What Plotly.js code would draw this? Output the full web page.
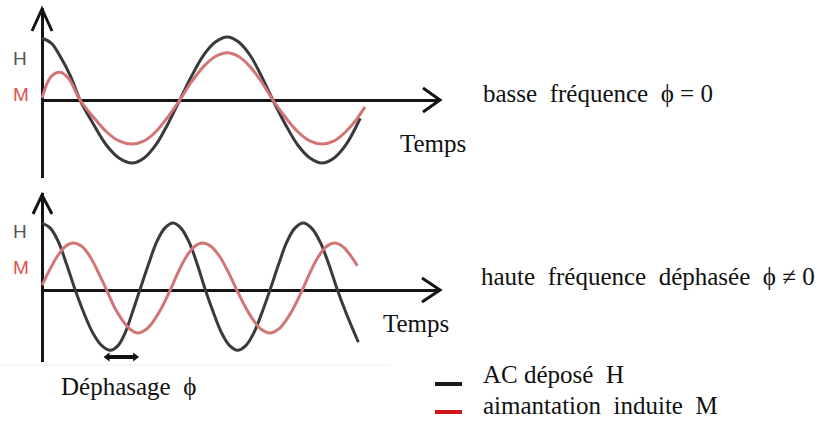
<!DOCTYPE html>
<html>
<head>
<meta charset="utf-8">
<script src="https://cdn.plot.ly/plotly-3.0.1.min.js"></script>
<style>html,body{margin:0;padding:0;background:#fff;}#chart{width:820px;height:421px;}</style>
</head>
<body>
<div id="chart"></div>
<script>
// ---- Data (time in arbitrary units, amplitude normalised) ----
var lowFreqTime_H = [0, 0.10, 0.20, 0.30, 0.40, 0.54, 0.675, 0.81, 0.95, 1.075, 1.20, 1.325, 1.45, 1.575, 1.70, 1.825, 1.95, 2.07, 2.19, 2.31, 2.43, 2.56, 2.69, 2.82, 2.95, 3.075, 3.20, 3.35];
var lowFreqH      = [0.98, 0.90, 0.67, 0.38, 0, -0.38, -0.71, -0.92, -1.0, -0.92, -0.71, -0.38, 0, 0.38, 0.71, 0.92, 1.0, 0.92, 0.71, 0.38, 0, -0.38, -0.71, -0.92, -1.0, -0.92, -0.71, -0.29];
var lowFreqTime_M = [0, 0.05, 0.10, 0.19, 0.28, 0.40, 0.54, 0.675, 0.81, 0.95, 1.075, 1.20, 1.325, 1.45, 1.575, 1.70, 1.825, 1.95, 2.07, 2.19, 2.31, 2.43, 2.56, 2.69, 2.82, 2.95, 3.075, 3.20, 3.30, 3.40];
var lowFreqM      = [0.03, 0.25, 0.38, 0.44, 0.34, 0, -0.27, -0.50, -0.65, -0.70, -0.65, -0.50, -0.27, 0, 0.29, 0.53, 0.69, 0.75, 0.69, 0.53, 0.29, 0, -0.27, -0.50, -0.65, -0.70, -0.65, -0.50, -0.33, -0.11];

var highFreqTime_H = [0, 0.09, 0.175, 0.26, 0.35, 0.44, 0.535, 0.63, 0.72, 0.80, 0.875, 0.95, 1.03, 1.12, 1.205, 1.29, 1.38, 1.465, 1.55, 1.635, 1.72, 1.805, 1.89, 1.975, 2.06, 2.145, 2.23, 2.315, 2.40, 2.49, 2.575, 2.66, 2.75, 2.84, 2.93, 3.02, 3.11, 3.20, 3.27, 3.33];
var highFreqH      = [1.0, 0.92, 0.71, 0.38, 0, -0.34, -0.64, -0.83, -0.90, -0.83, -0.64, -0.34, 0, 0.38, 0.71, 0.92, 1.0, 0.92, 0.71, 0.38, 0, -0.34, -0.64, -0.83, -0.90, -0.83, -0.64, -0.34, 0, 0.38, 0.71, 0.92, 1.0, 0.92, 0.71, 0.38, 0, -0.34, -0.58, -0.78];
var highFreqTime_M = [0, 0.08, 0.16, 0.245, 0.33, 0.42, 0.505, 0.59, 0.68, 0.76, 0.845, 0.93, 1.01, 1.095, 1.18, 1.265, 1.35, 1.435, 1.52, 1.605, 1.69, 1.78, 1.87, 1.96, 2.05, 2.14, 2.225, 2.31, 2.40, 2.485, 2.57, 2.655, 2.74, 2.825, 2.91, 2.995, 3.08, 3.165, 3.245, 3.32];
var highFreqM      = [0.07, 0.30, 0.50, 0.65, 0.70, 0.65, 0.50, 0.27, 0, -0.25, -0.45, -0.59, -0.64, -0.59, -0.45, -0.25, 0, 0.27, 0.50, 0.65, 0.70, 0.65, 0.50, 0.27, 0, -0.25, -0.45, -0.59, -0.64, -0.59, -0.45, -0.25, 0, 0.27, 0.50, 0.65, 0.70, 0.65, 0.52, 0.36];

var phaseShiftTime  = [0.69, 0.98];
var phaseShiftLevel = [-1.0, -1.0];

var seriesNames = ["AC déposé\u00a0 H", "aimantation\u00a0 induite\u00a0 M"];
var panelLabels = ["basse\u00a0 fréquence\u00a0 ϕ = 0", "haute\u00a0 fréquence\u00a0\u00a0déphasée\u00a0\u00a0ϕ ≠ 0"];
var axisLabel = "Temps";
var phaseLabel = "Déphasage\u00a0\u00a0ϕ";

// ---- Styles ----
var W = 820, Hh = 421;
function X(px){ return px / W; }
function Y(py){ return 1 - py / Hh; }
var colH = "#3a3a3a", colM = "#d27575";
var serif = "Liberation Serif";
var sans = "Liberation Sans";

function curve(x, y, col, xa, ya){
  return {x: x, y: y, xaxis: xa, yaxis: ya, mode: "lines",
          line: {color: col, width: 3, shape: "spline", smoothing: 1},
          showlegend: false, hoverinfo: "skip"};
}
var traces = [
  curve(lowFreqTime_H, lowFreqH, colH, "x", "y"),
  curve(lowFreqTime_M, lowFreqM, colM, "x", "y"),
  curve(highFreqTime_H, highFreqH, colH, "x2", "y2"),
  curve(highFreqTime_M, highFreqM, colM, "x2", "y2"),
  {x: phaseShiftTime, y: phaseShiftLevel, xaxis: "x2", yaxis: "y2", mode: "lines+markers",
   line: {color: "#111", width: 4}, marker: {symbol: ["triangle-left", "triangle-right"], size: 8, color: "#111"},
   showlegend: false, hoverinfo: "skip"}
];

var xr = [(41 - 42) / 95, (440 - 42) / 95];
var axCommon = {showgrid: false, showticklabels: false, ticks: "", showline: false, zeroline: true, zerolinecolor: "#151515", zerolinewidth: 3, fixedrange: true};

var layout = {
  width: W, height: Hh,
  margin: {l: 0, r: 0, t: 0, b: 0},
  paper_bgcolor: "#fff", plot_bgcolor: "rgba(0,0,0,0)",
  showlegend: false,
  xaxis: Object.assign({}, axCommon, {domain: [X(41), X(440)], range: xr, anchor: "y"}),
  yaxis: Object.assign({}, axCommon, {domain: [Y(178), Y(8)], range: [(100 - 178) / 63, (100 - 8) / 63], anchor: "x"}),
  xaxis2: Object.assign({}, axCommon, {domain: [X(41), X(440)], range: xr, anchor: "y2"}),
  yaxis2: Object.assign({}, axCommon, {domain: [Y(362), Y(193)], range: [(290 - 362) / 67, (290 - 193) / 67], anchor: "x2"}),
  shapes: [],
  annotations: []
};

function chevron(pts){
  var d = "M" + pts.map(function(p){ return X(p[0]) + "," + Y(p[1]); }).join(" L");
  return {type: "path", xref: "paper", yref: "paper", path: d, line: {color: "#151515", width: 3}};
}
layout.shapes.push(chevron([[423, 88], [440, 100], [423, 112]]));
layout.shapes.push(chevron([[32, 31], [42, 9], [52, 31]]));
layout.shapes.push(chevron([[422, 278], [440, 290], [422, 302]]));
layout.shapes.push(chevron([[33, 214], [42, 195], [52, 214]]));
// faint frame edge of the original figure
layout.shapes.push({type: "line", xref: "paper", yref: "paper", x0: 0, x1: X(390), y0: Y(365), y1: Y(365), line: {color: "#efefef", width: 1}});
// legend swatches
layout.shapes.push({type: "line", xref: "paper", yref: "paper", x0: X(435), x1: X(462), y0: Y(384), y1: Y(384), line: {color: "#1a1a1a", width: 4}});
layout.shapes.push({type: "line", xref: "paper", yref: "paper", x0: X(435), x1: X(462), y0: Y(412), y1: Y(412), line: {color: "#d01818", width: 4}});

function txt(s, px, py, font, anchor){
  layout.annotations.push({text: s, xref: "paper", yref: "paper", x: X(px), y: Y(py), xanchor: anchor || "left", yanchor: "middle", showarrow: false, font: font});
}
var serifFont = {family: serif, size: 25, color: "#111"};
txt(panelLabels[0], 481, 94, serifFont);
txt(axisLabel, 398, 143, serifFont);
txt(panelLabels[1], 479, 276, serifFont);
txt(axisLabel, 381, 323, serifFont);
txt(phaseLabel, 59, 386, serifFont);
txt(seriesNames[0], 481, 374, serifFont);
txt(seriesNames[1], 481, 405, serifFont);
txt("H", 20, 58, {family: sans, size: 19, color: "#555"}, "center");
txt("M", 21, 95, {family: sans, size: 19, color: "#d9534f"}, "center");
txt("H", 20, 231, {family: sans, size: 19, color: "#555"}, "center");
txt("M", 21, 267, {family: sans, size: 19, color: "#d9534f"}, "center");

Plotly.newPlot("chart", traces, layout, {staticPlot: true, displayModeBar: false});
</script>
</body>
</html>
